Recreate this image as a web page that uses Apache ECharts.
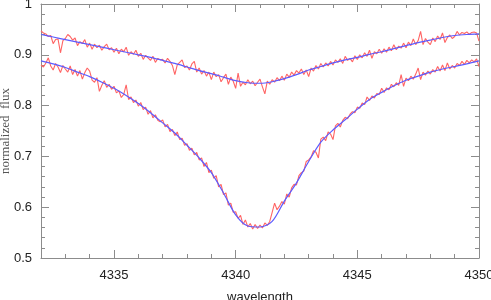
<!DOCTYPE html>
<html>
<head>
<meta charset="utf-8">
<script src="https://cdn.jsdelivr.net/npm/echarts@6/dist/echarts.min.js"></script>
<style>
  html, body { margin: 0; padding: 0; background: #fff; }
  #chart { width: 491px; height: 300px; }
</style>
</head>
<body>
<div id="chart"></div>
<script>
// wavelength grid of the observed spectra (0.1 A steps, 4332..4350)
const obsWave = Array.from({ length: 181 }, (_, i) => +(4332 + i * 0.1).toFixed(1))

// weak line, observed
const weakObs = [
  0.947, 0.943, 0.941, 0.936, 0.938, 0.922, 0.930, 0.931, 0.904, 0.928,
  0.932, 0.940, 0.936, 0.929, 0.933, 0.918, 0.926, 0.922, 0.930, 0.915,
  0.923, 0.911, 0.921, 0.914, 0.919, 0.909, 0.916, 0.921, 0.910, 0.914,
  0.905, 0.913, 0.902, 0.911, 0.906, 0.915, 0.899, 0.906, 0.901, 0.909,
  0.897, 0.903, 0.891, 0.899, 0.894, 0.889, 0.897, 0.885, 0.893, 0.890,
  0.891, 0.884, 0.893, 0.887, 0.879, 0.861, 0.880, 0.885, 0.890, 0.875,
  0.878, 0.870, 0.882, 0.887, 0.866, 0.874, 0.862, 0.869, 0.858, 0.866,
  0.851, 0.866, 0.857, 0.861, 0.847, 0.855, 0.862, 0.842, 0.856, 0.848,
  0.834, 0.864, 0.838, 0.846, 0.841, 0.851, 0.843, 0.848, 0.839, 0.846,
  0.852, 0.837, 0.823, 0.848, 0.842, 0.851, 0.846, 0.855, 0.849, 0.858,
  0.850, 0.862, 0.856, 0.866, 0.860, 0.869, 0.864, 0.872, 0.861, 0.870,
  0.857, 0.874, 0.868, 0.879, 0.872, 0.883, 0.876, 0.884, 0.878, 0.887,
  0.880, 0.890, 0.885, 0.892, 0.883, 0.897, 0.889, 0.893, 0.886, 0.898,
  0.891, 0.900, 0.894, 0.904, 0.897, 0.909, 0.893, 0.906, 0.902, 0.911,
  0.903, 0.912, 0.905, 0.915, 0.908, 0.920, 0.910, 0.917, 0.913, 0.923,
  0.914, 0.925, 0.918, 0.931, 0.920, 0.928, 0.946, 0.920, 0.932, 0.925,
  0.920, 0.933, 0.926, 0.937, 0.930, 0.943, 0.924, 0.934, 0.939, 0.932,
  0.936, 0.946, 0.939, 0.944, 0.942, 0.945, 0.940, 0.944, 0.945, 0.943,
  0.927
]

// strong line, observed
const strongObs = [
  0.880, 0.876, 0.884, 0.894, 0.878, 0.870, 0.883, 0.876, 0.865, 0.879,
  0.872, 0.866, 0.878, 0.861, 0.871, 0.858, 0.869, 0.852, 0.865, 0.874,
  0.868, 0.850, 0.846, 0.855, 0.828, 0.840, 0.849, 0.836, 0.842, 0.832,
  0.838, 0.825, 0.829, 0.816, 0.822, 0.841, 0.812, 0.817, 0.806, 0.811,
  0.799, 0.806, 0.792, 0.797, 0.783, 0.790, 0.776, 0.782, 0.771, 0.768,
  0.772, 0.758, 0.763, 0.749, 0.753, 0.741, 0.748, 0.733, 0.736, 0.722,
  0.725, 0.712, 0.716, 0.703, 0.708, 0.693, 0.697, 0.680, 0.688, 0.668,
  0.673, 0.657, 0.662, 0.640, 0.645, 0.625, 0.628, 0.604, 0.608, 0.590,
  0.591, 0.578, 0.584, 0.566, 0.575, 0.561, 0.568, 0.557, 0.566, 0.558,
  0.565, 0.559, 0.569, 0.564, 0.572, 0.590, 0.608, 0.595, 0.602, 0.611,
  0.606, 0.626, 0.620, 0.638, 0.645, 0.644, 0.662, 0.668, 0.671, 0.690,
  0.693, 0.699, 0.711, 0.708, 0.697, 0.734, 0.738, 0.731, 0.748, 0.744,
  0.733, 0.760, 0.765, 0.758, 0.771, 0.777, 0.774, 0.783, 0.788, 0.786,
  0.797, 0.795, 0.805, 0.802, 0.817, 0.810, 0.819, 0.815, 0.824, 0.822,
  0.834, 0.826, 0.835, 0.831, 0.842, 0.837, 0.845, 0.840, 0.861, 0.838,
  0.854, 0.849, 0.858, 0.852, 0.862, 0.874, 0.851, 0.866, 0.860, 0.868,
  0.862, 0.871, 0.866, 0.877, 0.868, 0.880, 0.869, 0.884, 0.872, 0.879,
  0.874, 0.883, 0.879, 0.887, 0.881, 0.889, 0.884, 0.890, 0.886, 0.892,
  0.877
]

// model fits (0.5 A steps)
const modelWave = [
  4332, 4332.5, 4333, 4333.5, 4334, 4334.5, 4335, 4335.5, 4336, 4336.5,
  4337, 4337.5, 4338, 4338.5, 4339, 4339.5, 4340, 4340.5, 4341, 4341.5,
  4342, 4342.5, 4343, 4343.5, 4344, 4344.5, 4345, 4345.5, 4346, 4346.5,
  4347, 4347.5, 4348, 4348.5, 4349, 4349.5, 4350
]
const weakModel = [
  0.940, 0.935, 0.930, 0.925, 0.920, 0.915, 0.910, 0.905, 0.900, 0.895,
  0.889, 0.883, 0.876, 0.869, 0.863, 0.856, 0.849, 0.845, 0.844, 0.847,
  0.853, 0.861, 0.870, 0.877, 0.884, 0.890, 0.895, 0.901, 0.906, 0.912,
  0.918, 0.924, 0.929, 0.934, 0.938, 0.940, 0.941
]
const strongModel = [
  0.888, 0.882, 0.875, 0.866, 0.857, 0.846, 0.834, 0.820, 0.804, 0.786,
  0.766, 0.746, 0.722, 0.697, 0.668, 0.628, 0.585, 0.563, 0.561, 0.572,
  0.612, 0.648, 0.690, 0.728, 0.752, 0.772, 0.793, 0.812, 0.826, 0.839,
  0.850, 0.858, 0.866, 0.872, 0.877, 0.882, 0.888
]

const xLabels = [4335, 4340, 4345, 4350]
const xMajor = [4335, 4340, 4345]
const yLabels = [0.5, 0.6, 0.7, 0.8, 0.9, 1]

const pair = (xs, ys) => xs.map((x, i) => [x, ys[i]])

const axisGray = '#8c8c8c'
const labelFont = "'Liberation Sans Narrow', 'Liberation Sans', Arial, sans-serif"

const xBase = (pos) => ({
  type: 'value', min: 4332, max: 4350, position: pos,
  splitLine: { show: false }
})
const yBase = (pos) => ({
  type: 'value', min: 0.5, max: 1, position: pos,
  splitLine: { show: false }
})
const minorTick = { show: true, inside: true, length: 4, lineStyle: { color: axisGray } }
const majorTick = (vals) => ({ show: true, inside: true, length: 8, customValues: vals, lineStyle: { color: axisGray } })
const frame = { show: true, lineStyle: { color: axisGray, width: 1 } }

const chart = echarts.init(document.getElementById('chart'))
chart.setOption({
  animation: false,
  grid: { left: 41, right: 12, top: 4, bottom: 42, outerBoundsMode: 'none', containLabel: false },
  xAxis: [
    Object.assign(xBase('bottom'), {
      interval: 1,
      axisLine: frame,
      axisTick: minorTick,
      axisLabel: {
        customValues: xLabels, color: '#222', fontSize: 13, fontFamily: labelFont, margin: 11,
        formatter: (v) => String(v)
      },
      name: 'wavelength', nameLocation: 'middle', nameGap: 33, nameMoveOverlap: false,
      nameTextStyle: { color: '#222', fontSize: 13, fontFamily: labelFont }
    }),
    Object.assign(xBase('bottom'), {
      axisLine: { show: false },
      axisTick: majorTick(xMajor),
      axisLabel: { show: false }
    }),
    Object.assign(xBase('top'), {
      interval: 1,
      axisLine: frame,
      axisTick: minorTick,
      axisLabel: { show: false }
    }),
    Object.assign(xBase('top'), {
      axisLine: { show: false },
      axisTick: majorTick(xMajor),
      axisLabel: { show: false }
    })
  ],
  yAxis: [
    Object.assign(yBase('left'), {
      interval: 0.02,
      axisLine: frame,
      axisTick: minorTick,
      axisLabel: { customValues: yLabels, color: '#222', fontSize: 13, fontFamily: labelFont, margin: 9 },
      name: 'normalized  flux', nameLocation: 'middle', nameGap: 29, nameRotate: 90, nameMoveOverlap: false,
      nameTextStyle: { color: '#555', fontSize: 13, fontFamily: "'Liberation Serif', 'DejaVu Serif', serif" }
    }),
    Object.assign(yBase('left'), {
      axisLine: { show: false },
      axisTick: majorTick(yLabels),
      axisLabel: { show: false }
    }),
    Object.assign(yBase('right'), {
      interval: 0.02,
      axisLine: frame,
      axisTick: minorTick,
      axisLabel: { show: false }
    }),
    Object.assign(yBase('right'), {
      axisLine: { show: false },
      axisTick: majorTick(yLabels),
      axisLabel: { show: false }
    })
  ],
  series: [
    { type: 'line', data: pair(obsWave, weakObs), showSymbol: false, lineStyle: { color: '#ff6464', width: 1.1 } },
    { type: 'line', data: pair(obsWave, strongObs), showSymbol: false, lineStyle: { color: '#ff6464', width: 1.1 } },
    { type: 'line', data: pair(modelWave, weakModel), smooth: 0.3, showSymbol: false, lineStyle: { color: '#5c5cff', width: 1.2 } },
    { type: 'line', data: pair(modelWave, strongModel), smooth: 0.3, showSymbol: false, lineStyle: { color: '#5c5cff', width: 1.2 } }
  ]
})
</script>
</body>
</html>
